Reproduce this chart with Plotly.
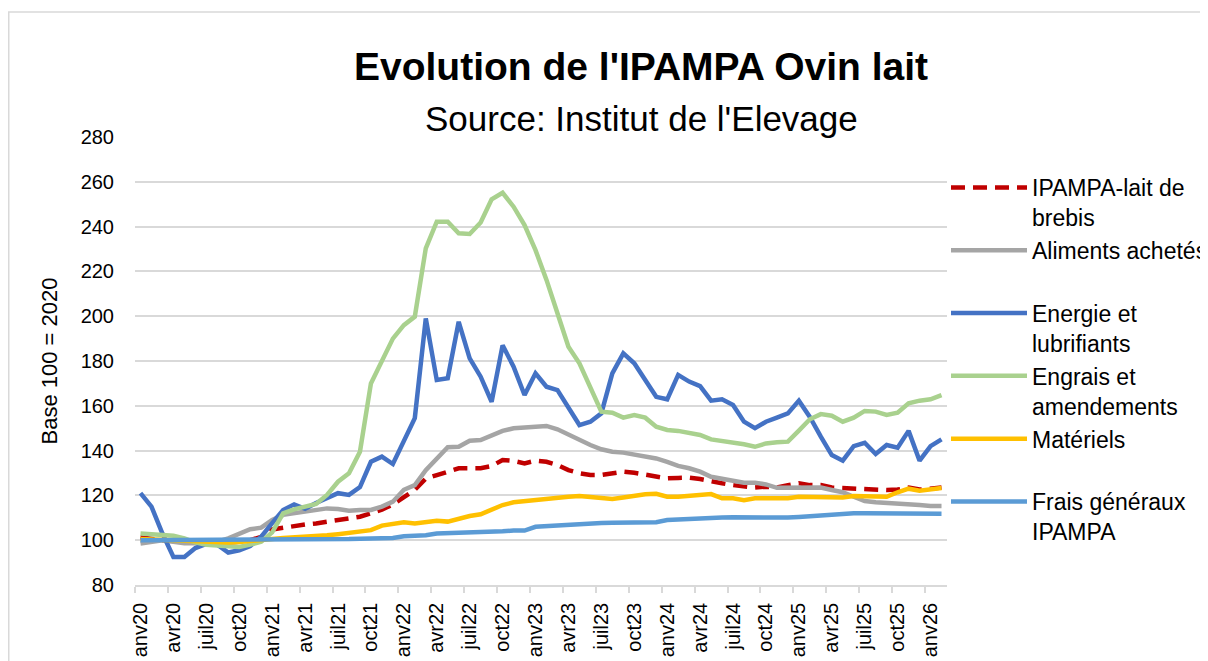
import plotly.graph_objects as go

# Monthly index Jan 2020 .. Feb 2026 (74 months)
months = ["2020-%02d" % m for m in range(1, 13)] + ["2021-%02d" % m for m in range(1, 13)] + \
         ["2022-%02d" % m for m in range(1, 13)] + ["2023-%02d" % m for m in range(1, 13)] + \
         ["2024-%02d" % m for m in range(1, 13)] + ["2025-%02d" % m for m in range(1, 13)] + \
         ["2026-01", "2026-02"]

tick_labels = ["anv20", "avr20", "juil20", "oct20", "anv21", "avr21", "juil21", "oct21",
               "anv22", "avr22", "juil22", "oct22", "anv23", "avr23", "juil23", "oct23",
               "anv24", "avr24", "juil24", "oct24", "anv25", "avr25", "juil25", "oct25", "anv26"]

ipampa_brebis = [101.3, 100.5, 100, 99.6, 99.2, 98.9, 98.7, 98.7, 98.9, 99.3, 100, 101.5,
                 104.8, 105.6, 106.6, 107, 107.5, 108.3, 108.8, 109.5, 110.5, 112, 113.6, 116,
                 119.5, 122.5, 127.5, 129, 130.5, 132.1, 132.1, 132.1, 133.1, 135.8, 135.4, 134.3,
                 135.5, 135, 133.6, 131.3, 129.9, 129.1, 129.1, 130.1, 130.6, 130.1, 129.1, 128.1,
                 127.6, 127.8, 127.9, 127.3, 126.1, 125.4, 124.6, 123.9, 123.5, 123.9, 123.5, 124.6,
                 125.4, 124.6, 124.6, 123.5, 123.2, 122.8, 122.6, 122.4, 122.4, 122.6, 123.5, 122.6,
                 123.2, 123.5]

aliments = [98.5, 99.3, 100, 99.3, 98.6, 98.6, 98.9, 99.3, 100.8, 103, 104.9, 105.6,
            109, 111.3, 112, 113, 113.9, 114.2, 113.9, 113.2, 113.5, 113.5, 115, 117.2,
            122.5, 124.6, 131.3, 136.5, 141.5, 141.7, 144.4, 144.7, 146.5, 148.8, 150, 150.4,
            151, 151, 149.5, 147, 144.7, 142.5, 140.6, 139.5, 139.1, 138.3, 137.6, 136.5,
            135, 133.2, 132.1, 130.6, 128.3, 127.3, 126.4, 125.7, 125.7, 124.9, 123.4, 123.5,
            123.4, 123.4, 123.5, 122.4, 121.4, 119.4, 117.5, 116.9, 116.7, 116.2, 116, 115.7,
            115.3, 115.3]

energie = [121, 115, 103, 92.5, 92.5, 96.5, 98.3, 98, 94.5, 95.5, 97.4, 101.6,
           107.6, 113.5, 116, 114, 116.6, 118.8, 121, 120.2, 123.7, 135, 137.3, 134,
           144, 154.5, 199, 171.5, 172.3, 197.5, 181.2, 173, 161.8, 187, 177.5, 164.8,
           174.5, 168.5, 167, 159.6, 151.4, 152.9, 156.6, 174.5, 183.4, 179, 171.5, 164,
           162.9, 173.8, 170.8, 168.8, 162.3, 162.9, 160.4, 152.9, 150, 152.9, 154.7, 156.6,
           162.3, 155, 146.2, 138, 135.5, 142, 143.5, 138.5, 142.5, 141.3, 148.8, 135.5,
           142, 145]

engrais = [103, 102.8, 102.5, 102, 100.8, 99, 98, 97.5, 97, 97, 98, 99.3,
           103.5, 112, 113.8, 115, 116.2, 120.2, 126.1, 129.9, 139.5, 170, 180.4, 190,
           196, 199.8, 230.3, 242.2, 242.2, 237, 236.7, 241.8, 252.2, 255.1, 248.9, 240.7,
           229.5, 216.2, 201.3, 186.4, 179, 168.5, 157.4, 156.9, 154.7, 155.9, 154.7, 150.7,
           149.2, 148.8, 148, 147, 145, 144.4, 143.5, 142.8, 141.7, 143.2, 143.7, 144,
           148.9, 154, 156.3, 155.6, 152.9, 154.7, 157.7, 157.4, 155.9, 156.9, 161.1, 162.3,
           162.9, 164.8]

materiels = [100.5, 100.3, 100, 99.7, 99.5, 99.3, 99, 99, 99, 99.2, 99.5, 100,
             100.5, 101, 101.2, 101.5, 101.8, 102.2, 102.7, 103.2, 103.8, 104.5, 106.5, 107,
             108, 107.5, 108, 108.7, 108.3, 109.8, 110.8, 111.6, 113.8, 115.7, 116.9, 117.5,
             117.9, 118.4, 119.1, 119.4, 119.7, 119.4, 119.1, 118.4, 119.1, 119.9, 120.5, 120.7,
             119.4, 119.4, 119.7, 120.2, 120.6, 118.7, 118.7, 117.9, 118.7, 118.7, 118.7, 118.7,
             119.4, 119.4, 119.4, 119.4, 119.1, 119.7, 119.7, 119.4, 119.4, 121.4, 123, 122.1,
             122.5, 123.3]

frais = [100, 100, 100, 100, 100, 100, 100, 100, 100, 100, 100, 100,
         100.2, 100.2, 100.3, 100.3, 100.4, 100.4, 100.5, 100.5, 100.7, 100.8, 100.9, 101,
         101.8, 102, 102.2, 103, 103.1, 103.2, 103.4, 103.6, 103.6, 104, 104.3, 104.3,
         106, 106.3, 106.5, 107.3, 107.5, 107.5, 107.7, 107.8, 107.8, 107.8, 107.8, 108,
         109, 109.3, 109.6, 110, 110.1, 110.1, 110.2, 110.2, 109.8, 110, 110, 110.1,
         110.4, 110.8, 111.3, 111.7, 111.8, 112, 112, 112, 111.8, 112, 112, 112,
         111.8, 111.8]

series_names = ["IPAMPA-lait de<br>brebis", "Aliments achetés<br> ", "Energie et<br>lubrifiants",
                "Engrais et<br>amendements", "Matériels<br> ", "Frais généraux<br>IPAMPA"]
series_values = [ipampa_brebis, aliments, energie, engrais, materiels, frais]
series_colors = ["#C00000", "#A5A5A5", "#4472C4", "#A9D18E", "#FFC000", "#5B9BD5"]
series_dash = ["14px,8px", "solid", "solid", "solid", "solid", "solid"]

FONT = "Liberation Sans, Arial, sans-serif"

x_idx = list(range(len(months)))

fig = go.Figure()
for name, vals, col, dash in zip(series_names, series_values, series_colors, series_dash):
    fig.add_trace(go.Scatter(
        x=x_idx, y=vals, name=name, mode="lines",
        line=dict(color=col, width=4.5, dash=dash),
        customdata=months, hovertemplate="%{customdata}: %{y}<extra></extra>",
    ))

# The page adds an 8px body margin: positions below are figure pixels
W, H = 1208, 661
ml, mr, mt, mb = 127, 269, 129, 84
pw, ph = W - ml - mr, H - mt - mb


def px_x(p):
    return (p - ml) / pw


def px_y(p):
    return (H - mb - p) / ph


# chart-area frame: only left and top edges are visible in the reference
bx0, bx1 = px_x(0.75), px_x(1240)
by0, by1 = px_y(700), px_y(4)
frame_path = "M %f,%f L %f,%f L %f,%f" % (bx0, by0, bx0, by1, bx1, by1)

fig.update_layout(
    width=W, height=H,
    margin=dict(l=ml, r=mr, t=mt, b=mb, autoexpand=False),
    paper_bgcolor="white", plot_bgcolor="white",
    font=dict(family=FONT, color="#000000", size=20),
    showlegend=True,
    legend=dict(
        x=px_x(938), y=px_y(158), xanchor="left", yanchor="top",
        font=dict(family=FONT, size=23, color="#000000"),
        valign="top", bgcolor="rgba(0,0,0,0)", tracegroupgap=0,
        itemwidth=76,
    ),
    xaxis=dict(
        range=[-0.5, len(months) - 0.5],
        tickmode="array", tickvals=list(range(0, len(months), 3)), ticktext=tick_labels,
        tickangle=-90, ticks="outside", ticklen=8, tickcolor="rgba(0,0,0,0)",
        tickfont=dict(family=FONT, size=20, color="#000000"),
        showgrid=False, zeroline=False,
        showline=True, linecolor="#D9D9D9", linewidth=1.5,
        minor=dict(tickmode="array", tickvals=[v - 0.5 for v in range(0, len(months) + 1, 3)],
                   ticks="outside", ticklen=6, tickcolor="#D9D9D9", tickwidth=1.5, showgrid=False),
    ),
    yaxis=dict(
        range=[80, 280], tickmode="linear", tick0=80, dtick=20,
        showgrid=True, gridcolor="#D9D9D9", gridwidth=1.5,
        zeroline=False, showline=False, ticks="",
        ticklabelstandoff=20,
        tickfont=dict(family=FONT, size=20, color="#000000"),
        title=dict(text="Base 100 = 2020", font=dict(family=FONT, size=22, color="#000000"), standoff=16),
    ),
    annotations=[
        dict(text="<b>Evolution de l'IPAMPA Ovin lait</b>", xref="paper", yref="paper",
             x=px_x(633), y=px_y(58), xanchor="center", yanchor="middle", showarrow=False,
             font=dict(family=FONT, size=39, color="#000000")),
        dict(text="Source: Institut de l'Elevage", xref="paper", yref="paper",
             x=px_x(633), y=px_y(110), xanchor="center", yanchor="middle", showarrow=False,
             font=dict(family=FONT, size=35, color="#000000")),
    ],
    shapes=[
        dict(type="path", xref="paper", yref="paper", path=frame_path,
             line=dict(color="#D9D9D9", width=1.5), fillcolor="rgba(0,0,0,0)", layer="below"),
    ],
)

fig.write_html("out.html")
